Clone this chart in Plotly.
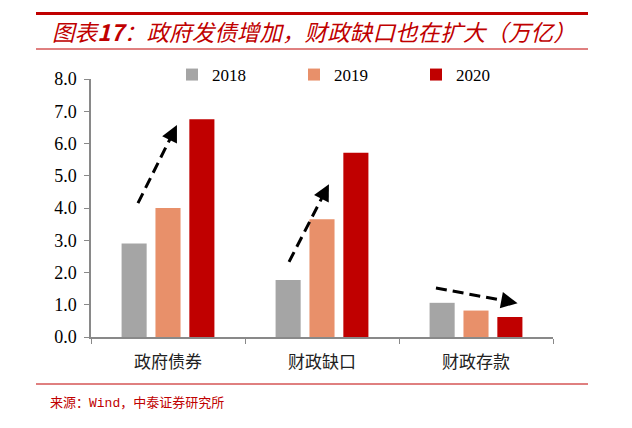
import plotly.graph_objects as go

categories = ["政府债券", "财政缺口", "财政存款"]
years = ["2018", "2019", "2020"]
values_2018 = [2.9, 1.77, 1.06]
values_2019 = [4.0, 3.65, 0.82]
values_2020 = [6.75, 5.71, 0.62]
series_values = [values_2018, values_2019, values_2020]
colors = ["#A5A5A5", "#E8906A", "#C00000"]

# trend arrows: (tail category-offset, tail value) -> (head category-offset, head value)
arrow_tail_x = [-0.195, 0.786, 1.74]
arrow_tail_y = [4.15, 2.33, 1.52]
arrow_head_x = [0.058, 1.045, 2.27]
arrow_head_y = [6.57, 4.74, 1.05]

title_text = "图表<b>17</b>：政府发债增加，财政缺口也在扩大（万亿）"
source_text = "来源：Wind，中泰证券研究所"
ytick_vals = [0, 1, 2, 3, 4, 5, 6, 7, 8]

W, H = 632, 428
L, R, T, B = 91, 79, 79, 91
pw, ph = W - L - R, H - T - B

def px_x(x):
    return (x - L) / pw

def px_y(y):
    return (H - B - y) / ph

fig = go.Figure()
for yr, vals, col in zip(years, series_values, colors):
    fig.add_trace(go.Bar(name=yr, x=categories, y=vals, marker=dict(color=col, line=dict(width=0))))

shapes = []
annotations = []
for tx, ty, hx, hy in zip(arrow_tail_x, arrow_tail_y, arrow_head_x, arrow_head_y):
    mx = tx + (hx - tx) * 0.86
    my = ty + (hy - ty) * 0.86
    shapes.append(dict(type="line", xref="x", yref="y", x0=tx, y0=ty, x1=mx, y1=my,
                       line=dict(color="black", width=3, dash="11px,6px")))
    sx = tx + (hx - tx) * 0.8
    sy = ty + (hy - ty) * 0.8
    annotations.append(dict(xref="x", yref="y", axref="x", ayref="y", x=hx, y=hy, ax=sx, ay=sy,
                            showarrow=True, arrowhead=2, arrowsize=1.1, arrowwidth=3,
                            arrowcolor="black", text=""))

red = "#C00000"
shapes += [
    dict(type="line", xref="paper", yref="paper", x0=px_x(36), x1=px_x(588), y0=px_y(13.5), y1=px_y(13.5),
         line=dict(color=red, width=3)),
    dict(type="line", xref="paper", yref="paper", x0=px_x(36), x1=px_x(588), y0=px_y(49), y1=px_y(49),
         line=dict(color=red, width=1)),
    dict(type="line", xref="paper", yref="paper", x0=px_x(36), x1=px_x(588), y0=px_y(384), y1=px_y(384),
         line=dict(color=red, width=1)),
]
annotations += [
    dict(xref="paper", yref="paper", x=px_x(50), y=px_y(32), xanchor="left", yanchor="middle",
         text="<i>" + title_text + "</i>", showarrow=False,
         font=dict(family="Noto Sans CJK SC", size=22.6, color=red)),
    dict(xref="paper", yref="paper", x=px_x(48), y=px_y(403), xanchor="left", yanchor="middle",
         text=source_text, showarrow=False,
         font=dict(family="Liberation Mono, Noto Sans CJK SC", size=13, color=red)),
]

fig.update_layout(
    width=W, height=H,
    margin=dict(l=L, r=R, t=T, b=B, autoexpand=False),
    paper_bgcolor="white", plot_bgcolor="white",
    barmode="group", bargap=0.34, bargroupgap=0.26,
    showlegend=True,
    legend=dict(orientation="h", xref="container", yref="container",
                x=172 / W, y=1 - 75 / H, xanchor="left", yanchor="middle",
                entrywidth=77, entrywidthmode="pixels", bgcolor="rgba(0,0,0,0)",
                font=dict(family="Liberation Serif", size=17, color="black")),
    shapes=shapes, annotations=annotations,
    xaxis=dict(showline=True, linecolor="#898989", linewidth=1.5, ticks="outside", tickson="boundaries",
               ticklen=5, tickcolor="#898989", showgrid=False, automargin=False, ticklabelstandoff=9,
               tickfont=dict(family="Noto Sans CJK SC", size=17, color="#222")),
    yaxis=dict(range=[0, 8], tickvals=ytick_vals, tickformat=".1f", showline=True, linecolor="#898989",
               linewidth=1.5, ticks="outside", ticklen=5, tickcolor="#898989", showgrid=False,
               zeroline=False, automargin=False, ticklabelstandoff=4,
               tickfont=dict(family="Liberation Serif", size=18, color="black")),
)

fig.write_html("out.html", config={"displayModeBar": False},
               post_script="document.body.style.margin='0';document.body.style.padding='0';")
